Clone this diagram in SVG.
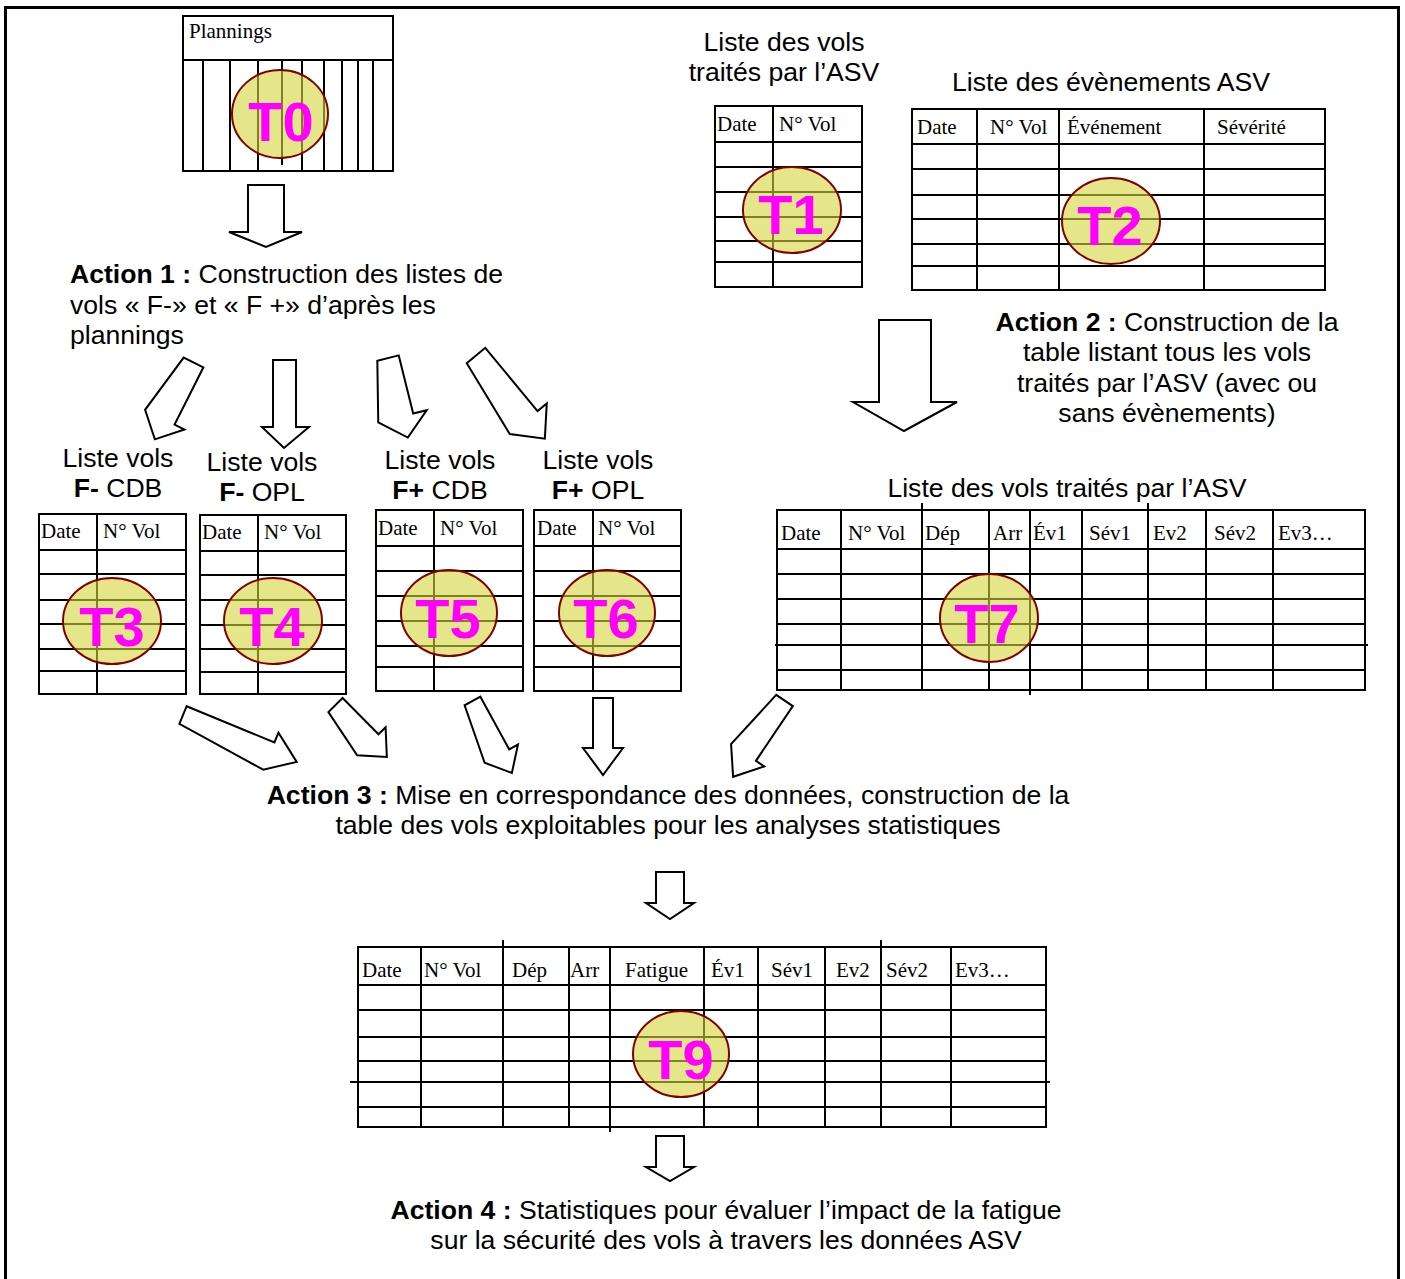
<svg xmlns="http://www.w3.org/2000/svg" width="1405" height="1279" viewBox="0 0 1405 1279">
  <style>
    .grid { fill: none; stroke: #000; stroke-width: 2; }
    .hd { font-family: "Liberation Serif", "Times New Roman", serif; font-size: 21px; fill: #000; }
    .lb { font-family: "Liberation Sans", Arial, sans-serif; font-size: 26.6px; fill: #000; }
    .mid { text-anchor: middle; }
    .b { font-weight: bold; }
    .tag ellipse { fill: #d4d43a; fill-opacity: 0.6; stroke: #800000; stroke-width: 2; }
    .tag text { font-family: "Liberation Sans", Arial, sans-serif; font-weight: bold; font-size: 56px; fill: #ff00ff; text-anchor: middle; }
    .arr { fill: #fff; stroke: #000; stroke-width: 2; stroke-linejoin: miter; }
  </style>

  <!-- frame -->
  <rect x="5.5" y="7.5" width="1393" height="1290" fill="#fff" stroke="#000" stroke-width="3"/>

  <!-- T0: plannings -->
  <g id="t0">
    <rect class="grid" x="183" y="16" width="210" height="155"/>
    <path class="grid" d="M183 60H393 M203 60V171 M230 60V171 M258 60V171 M282 60V165 M302 60V171 M324 60V171 M342 60V171 M358 60V171 M373 60V171"/>
    <text class="hd" x="189" y="38">Plannings</text>
    <g class="tag"><ellipse cx="280" cy="114" rx="48" ry="44"/><text x="281" y="141">T0</text></g>
  </g>

  <!-- T1: flights handled by ASV -->
  <g id="t1">
    <text class="lb mid" x="784" y="51">Liste des vols</text>
    <text class="lb mid" x="784" y="81">traités par l’ASV</text>
    <rect class="grid" x="715" y="106" width="147" height="181"/>
    <path class="grid" d="M773 106V287 M715 142H862 M715 167H862 M715 192H862 M715 217H862 M715 241H862 M715 262H862"/>
    <text class="hd" x="717" y="131">Date</text>
    <text class="hd" x="779" y="131">N° Vol</text>
    <g class="tag"><ellipse cx="792" cy="210" rx="49" ry="43"/><text x="791" y="234">T1</text></g>
  </g>

  <!-- T2: ASV events -->
  <g id="t2">
    <text class="lb mid" x="1111" y="91">Liste des évènements ASV</text>
    <rect class="grid" x="912" y="109" width="413" height="181"/>
    <path class="grid" d="M977 109V290 M1059 109V290 M1204 109V290 M912 144H1325 M912 169H1325 M912 195H1325 M912 219H1325 M912 244H1325 M912 266H1325"/>
    <text class="hd" x="917" y="134">Date</text>
    <text class="hd" x="990" y="134">N° Vol</text>
    <text class="hd" x="1067" y="134">Événement</text>
    <text class="hd" x="1217" y="134">Sévérité</text>
    <g class="tag"><ellipse cx="1111" cy="221" rx="49" ry="43"/><text x="1110" y="245">T2</text></g>
  </g>

  <!-- action texts -->
  <g id="action1">
    <text class="lb" x="70" y="283"><tspan class="b">Action 1 :</tspan> Construction des listes de</text>
    <text class="lb" x="70" y="314">vols « F-» et « F +» d’après les</text>
    <text class="lb" x="70" y="344">plannings</text>
  </g>
  <g id="action2">
    <text class="lb mid" x="1167" y="331"><tspan class="b">Action 2 :</tspan> Construction de la</text>
    <text class="lb mid" x="1167" y="361">table listant tous les vols</text>
    <text class="lb mid" x="1167" y="392">traités par l’ASV (avec ou</text>
    <text class="lb mid" x="1167" y="422">sans évènements)</text>
  </g>

  <!-- T3 -->
  <g id="t3">
    <text class="lb mid" x="118" y="467">Liste vols</text>
    <text class="lb mid" x="118" y="497"><tspan class="b">F-</tspan> CDB</text>
    <rect class="grid" x="39" y="514" width="147" height="180"/>
    <path class="grid" d="M97 514V694 M39 550H186 M39 574H186 M39 600H186 M39 624H186 M39 649H186 M39 671H186"/>
    <text class="hd" x="41" y="538">Date</text>
    <text class="hd" x="103" y="538">N° Vol</text>
    <g class="tag"><ellipse cx="112" cy="621" rx="49" ry="43"/><text x="112" y="646">T3</text></g>
  </g>

  <!-- T4 -->
  <g id="t4">
    <text class="lb mid" x="262" y="471">Liste vols</text>
    <text class="lb mid" x="262" y="501"><tspan class="b">F-</tspan> OPL</text>
    <rect class="grid" x="200" y="515" width="146" height="179"/>
    <path class="grid" d="M258 515V694 M200 551H346 M200 575H346 M200 600H346 M200 625H346 M200 649H346 M200 672H346"/>
    <text class="hd" x="202" y="539">Date</text>
    <text class="hd" x="264" y="539">N° Vol</text>
    <g class="tag"><ellipse cx="273" cy="621" rx="49" ry="43"/><text x="272" y="646">T4</text></g>
  </g>

  <!-- T5 -->
  <g id="t5">
    <text class="lb mid" x="440" y="469">Liste vols</text>
    <text class="lb mid" x="440" y="499"><tspan class="b">F+</tspan> CDB</text>
    <rect class="grid" x="376" y="510" width="147" height="181"/>
    <path class="grid" d="M434 510V691 M376 546H523 M376 571H523 M376 596H523 M376 621H523 M376 646H523 M376 667H523"/>
    <text class="hd" x="378" y="535">Date</text>
    <text class="hd" x="440" y="535">N° Vol</text>
    <g class="tag"><ellipse cx="449" cy="613" rx="48" ry="43"/><text x="448" y="638">T5</text></g>
  </g>

  <!-- T6 -->
  <g id="t6">
    <text class="lb mid" x="598" y="469">Liste vols</text>
    <text class="lb mid" x="598" y="499"><tspan class="b">F+</tspan> OPL</text>
    <rect class="grid" x="534" y="510" width="147" height="181"/>
    <path class="grid" d="M593 510V691 M534 546H681 M534 571H681 M534 596H681 M534 621H681 M534 646H681 M534 667H681"/>
    <text class="hd" x="537" y="535">Date</text>
    <text class="hd" x="598" y="535">N° Vol</text>
    <g class="tag"><ellipse cx="607" cy="613" rx="48" ry="43"/><text x="606" y="638">T6</text></g>
  </g>

  <!-- T7 -->
  <g id="t7">
    <text class="lb mid" x="1067" y="497">Liste des vols traités par l’ASV</text>
    <rect class="grid" x="777" y="510" width="588" height="180"/>
    <path class="grid" d="M841 510V690 M922 503V690 M989 510V690 M1030 510V695 M1082 510V690 M1148 503V690 M1206 510V690 M1273 510V690 M777 549H1365 M777 574H1365 M777 599H1365 M777 624H1365 M775 645H1368 M777 670H1365"/>
    <text class="hd" x="781" y="540">Date</text>
    <text class="hd" x="848" y="540">N° Vol</text>
    <text class="hd" x="925" y="540">Dép</text>
    <text class="hd" x="993" y="540">Arr</text>
    <text class="hd" x="1033" y="540">Év1</text>
    <text class="hd" x="1089" y="540">Sév1</text>
    <text class="hd" x="1153" y="540">Ev2</text>
    <text class="hd" x="1214" y="540">Sév2</text>
    <text class="hd" x="1278" y="540">Ev3…</text>
    <g class="tag"><ellipse cx="989" cy="618" rx="49" ry="44"/><text x="987" y="643">T7</text></g>
  </g>

  <g id="action3">
    <text class="lb mid" x="668" y="804"><tspan class="b">Action 3 :</tspan> Mise en correspondance des données, construction de la</text>
    <text class="lb mid" x="668" y="834">table des vols exploitables pour les analyses statistiques</text>
  </g>

  <!-- T9 -->
  <g id="t9">
    <rect class="grid" x="358" y="947" width="688" height="180"/>
    <path class="grid" d="M421 947V1127 M503 940V1127 M569 947V1127 M610 947V1132 M704 947V1127 M758 947V1127 M825 947V1127 M881 940V1127 M951 947V1127 M358 985H1046 M358 1010H1046 M358 1037H1046 M358 1061H1046 M350 1082H1050 M358 1107H1046"/>
    <text class="hd" x="362" y="977">Date</text>
    <text class="hd" x="424" y="977">N° Vol</text>
    <text class="hd" x="512" y="977">Dép</text>
    <text class="hd" x="570" y="977">Arr</text>
    <text class="hd" x="625" y="977">Fatigue</text>
    <text class="hd" x="711" y="977">Év1</text>
    <text class="hd" x="771" y="977">Sév1</text>
    <text class="hd" x="836" y="977">Ev2</text>
    <text class="hd" x="886" y="977">Sév2</text>
    <text class="hd" x="955" y="977">Ev3…</text>
    <g class="tag"><ellipse cx="681" cy="1054" rx="48" ry="43"/><text x="681" y="1079">T9</text></g>
  </g>

  <g id="action4">
    <text class="lb mid" x="726" y="1219"><tspan class="b">Action 4 :</tspan> Statistiques pour évaluer l’impact de la fatigue</text>
    <text class="lb mid" x="726" y="1249">sur la sécurité des vols à travers les données ASV</text>
  </g>

  <!-- block arrows -->
  <g id="connectors">
    <polygon class="arr" points="248,185 284,185 284,232 302,232 266,247 229,232 248,232"/>
    <polygon class="arr" points="879,320 931,320 931,402 957,402 904,431 853,402 879,402"/>
    <polygon class="arr" transform="translate(193.5,362.5) rotate(116.7)" points="0,-11 64,-11 64,-22 86,0 64,22 0,11"/>
    <polygon class="arr" points="273,360 296,360 296,427 309,427 284,448 262,427 273,427"/>
    <polygon class="arr" transform="translate(388,358) rotate(76)" points="0,-11 60,-11 60,-25 82,0 60,25 0,11"/>
    <polygon class="arr" transform="translate(476,355.5) rotate(50.4)" points="0,-12 82,-12 82,-24 108,0 82,24 0,12"/>
    <polygon class="arr" transform="translate(183,715) rotate(22.4)" points="0,-9.5 95,-9.5 95,-20 123,0 95,20 0,9.5"/>
    <polygon class="arr" transform="translate(335.5,705) rotate(45.3)" points="0,-10 51,-10 51,-20 73,0 51,20 0,10"/>
    <polygon class="arr" transform="translate(472.5,701) rotate(61.3)" points="0,-9 60,-9 60,-19 82,0 60,19 0,9"/>
    <polygon class="arr" points="593,698 613,698 613,748 623,748 603,775 583,748 593,748"/>
    <polygon class="arr" transform="translate(784.5,700.5) rotate(123.95)" points="0,-10 66,-10 66,-20 92,0 66,20 0,10"/>
    <polygon class="arr" points="656,872 684,872 684,903 694,903 670,919 646,903 656,903"/>
    <polygon class="arr" points="656,1136 684,1136 684,1167 694,1167 670,1181 646,1167 656,1167"/>
  </g>
</svg>
